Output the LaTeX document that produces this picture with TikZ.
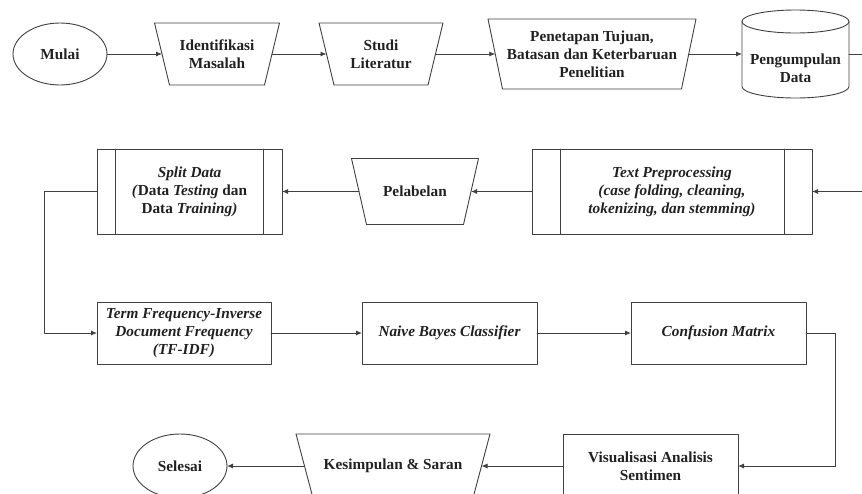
\documentclass[tikz,border=0pt]{standalone}
\usepackage{fontspec}
\setmainfont{Liberation Serif}
\usetikzlibrary{arrows.meta}
\usetikzlibrary{shapes.geometric}
\definecolor{linegray}{rgb}{0.25,0.25,0.25}
\definecolor{textgray}{rgb}{0.13,0.13,0.13}

\begin{document}
\begin{tikzpicture}[line cap=round,line join=round,x=1pt,y=-1pt,
  every node/.style={font=\fontsize{15.3}{18}\selectfont\bfseries,text=textgray,align=center,inner sep=0pt,outer sep=0pt},
  shp/.style={draw=linegray,line width=0.9pt},
  box/.style={shp,rectangle,minimum height=62},
  flow/.style={draw=linegray,line width=0.9pt,-{Latex[length=6pt,width=5pt]}}]
\useasboundingbox (0,0) rectangle (862,493);
% baris 1
\node[shp,ellipse,minimum width=94,minimum height=62] (mulai) at (60,54) {Mulai};
\node[minimum width=110,minimum height=62] (idm) at (217,54) {Identifikasi\\Masalah};
\node[minimum width=109,minimum height=62] (stl) at (381,54) {Studi\\Literatur};
\node[minimum width=193.5,minimum height=70] (ptj) at (592,54) {Penetapan Tujuan,\\Batasan dan Keterbaruan\\Penelitian};
\node[minimum width=107,minimum height=60] (pgd) at (795.5,68.5) {Pengumpulan\\Data};
\draw[shp] (795.5,21.5) ellipse [x radius=53.5,y radius=11.5];
\draw[shp] (742,21.5) -- (742,86.5) arc[start angle=180,end angle=0,x radius=53.5,y radius=11.5] -- (849,21.5);
\coordinate (outR) at (866,54);
% baris 2
\node[shp,minimum width=185,minimum height=85] (spl) at (189.5,191.5) {\textit{Split Data}\\\textit{(}Data \textit{Testing} dan\\Data \textit{Training)}};
\node[minimum width=112,minimum height=66] (plb) at (415,191.5) {Pelabelan};
\node[shp,minimum width=280,minimum height=85,font=\fontsize{15.3}{18}\selectfont\bfseries\itshape] (txp) at (672,191.5) {Text Preprocessing\\(case folding, cleaning,\\tokenizing, dan stemming)};
\coordinate (inR) at (866,191.5);
% baris 3
\node[box,minimum width=174,font=\fontsize{15.3}{18}\selectfont\bfseries\itshape] (tfi) at (184,333) {Term Frequency-Inverse\\Document Frequency\\(TF-IDF)};
\node[box,minimum width=175,font=\fontsize{15.3}{18}\selectfont\bfseries\itshape] (nbc) at (449.5,333) {Naive Bayes Classifier};
\node[box,minimum width=175,font=\fontsize{15.3}{18}\selectfont\bfseries\itshape] (cfm) at (718.5,333) {Confusion Matrix};
% baris 4
\node[box,minimum width=175,minimum height=64] (vis) at (650.5,466) {Visualisasi Analisis\\Sentimen};
\node[minimum width=177,minimum height=64] (ksp) at (393,466) {Kesimpulan \& Saran};
\node[shp,ellipse,minimum width=94,minimum height=64] (sls) at (180,466) {Selesai};
% bentuk trapesium dan garis proses
\foreach \n/\d in {idm/7.5,stl/7.5,ptj/7.25,plb/7.5,ksp/8.5}
\draw[shp] ([xshift=-\d]\n.north west) -- ([xshift=\d]\n.north east) -- ([xshift=-\d]\n.south east) -- ([xshift=\d]\n.south west) -- cycle;
\foreach \n/\d in {spl/18.5,txp/28}{
\draw[shp] ([xshift=\d]\n.north west) -- ([xshift=\d]\n.south west);
\draw[shp] ([xshift=-\d]\n.north east) -- ([xshift=-\d]\n.south east);
}
% alur
\draw[flow] (mulai.east) -- (idm.west);
\draw[flow] (idm.east) -- (stl.west);
\draw[flow] (stl.east) -- (ptj.west);
\draw[flow] (ptj.east) -- (ptj.east -| pgd.west);
\draw[shp] (ptj.east -| pgd.east) -- (outR);
\draw[flow] (inR) -- (txp.east);
\draw[flow] (txp.west) -- (plb.east);
\draw[flow] (plb.west) -- (spl.east);
\draw[flow] (spl.west) -- ++(-53,0) |- (tfi.west);
\draw[flow] (tfi.east) -- (nbc.west);
\draw[flow] (nbc.east) -- (cfm.west);
\draw[flow] (cfm.east) -- ++(29,0) |- (vis.east);
\draw[flow] (vis.west) -- (ksp.east);
\draw[flow] (ksp.west) -- (sls.east);
\end{tikzpicture}
\end{document}
